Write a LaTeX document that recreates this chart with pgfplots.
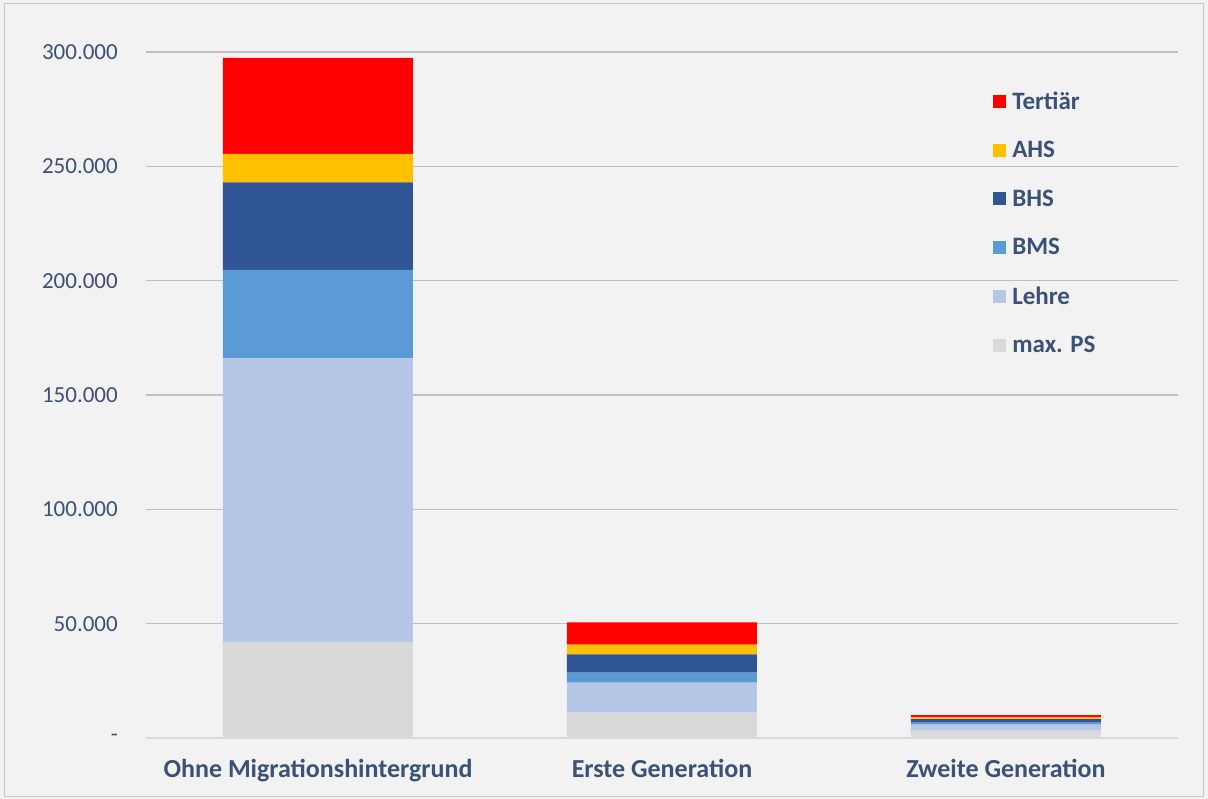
\documentclass[border=0pt]{standalone}
\usepackage{pgfplots}
\pgfplotsset{compat=1.18}
\usepackage{pgfplotstable}
\usepackage{fontspec}
\setmainfont{Carlito}
\definecolor{cTert}{HTML}{FF0000}
\definecolor{cAHS}{HTML}{FFC000}
\definecolor{cBHS}{HTML}{2F5597}
\definecolor{cBMS}{HTML}{5B9BD5}
\definecolor{cLehre}{HTML}{B4C7E7}
\definecolor{cPS}{HTML}{D9D9D9}
\definecolor{bg}{HTML}{F2F2F2}
\definecolor{grid}{HTML}{D9D9D9}
\definecolor{txt}{HTML}{3B5175}
\pgfplotstableread{
x maxPS Lehre BMS BHS AHS Tert
0 42000 124000 38700 38300 12400 42000
1 11100 13100 4400 8000 4200 9800
2 3200 2600 900 1600 800 900
}\data
\begin{document}
\begin{tikzpicture}
\fill[bg] (-146bp,-61bp) rectangle (1062bp,738bp);
\draw[grid!80!gray, line width=1bp] (-141bp,-58bp) rectangle (1057bp,734bp);
\begin{axis}[
  scale only axis,
  width=1032bp, height=686bp,
  xmin=-0.5, xmax=2.5,
  ymin=0, ymax=300000,
  ybar stacked,
  bar width=190bp,
  axis line style={draw=none},
  ymajorgrids, xmajorgrids=false,
  grid style={grid, line width=1.2bp},
  major tick length=0pt,
  xtick={0,1,2},
  xticklabels={Ohne Migrationshintergrund, Erste Generation, Zweite Generation},
  ytick={0,50000,100000,150000,200000,250000,300000},
  yticklabels={-,50.000,100.000,150.000,200.000,250.000,300.000},
  scaled y ticks=false,
  xticklabel style={font=\fontsize{26bp}{30bp}\selectfont\bfseries, text=txt, anchor=north, yshift=-21bp, inner sep=0pt},
  yticklabel style={font=\fontsize{23bp}{27bp}\selectfont, text=txt, anchor=east, xshift=-28bp, inner sep=0pt},
  xtick pos=bottom, ytick pos=left,
  reverse legend,
  legend cell align=left,
  legend style={at={(0.818,0.948)}, anchor=north west, draw=none, fill=none,
    font=\fontsize{25bp}{30bp}\selectfont\bfseries, text=txt, row sep=26.6bp,
    /tikz/every odd column/.append style={column sep=4bp}},
  legend image code/.code={\fill[#1] (0bp,-6.5bp) rectangle (13bp,6.5bp);},
  clip=false,
]
\addplot[fill=cPS, draw=none] table[x=x, y=maxPS] {\data};
\addplot[fill=cLehre, draw=none] table[x=x, y=Lehre] {\data};
\addplot[fill=cBMS, draw=none] table[x=x, y=BMS] {\data};
\addplot[fill=cBHS, draw=none] table[x=x, y=BHS] {\data};
\addplot[fill=cAHS, draw=none] table[x=x, y=AHS] {\data};
\addplot[fill=cTert, draw=none] table[x=x, y=Tert] {\data};
\legend{max. PS, Lehre, BMS, BHS, AHS, Tertiär}
\draw[grid, line width=1.5bp] (rel axis cs:0,0) -- (rel axis cs:1,0);
\end{axis}
\end{tikzpicture}
\end{document}
